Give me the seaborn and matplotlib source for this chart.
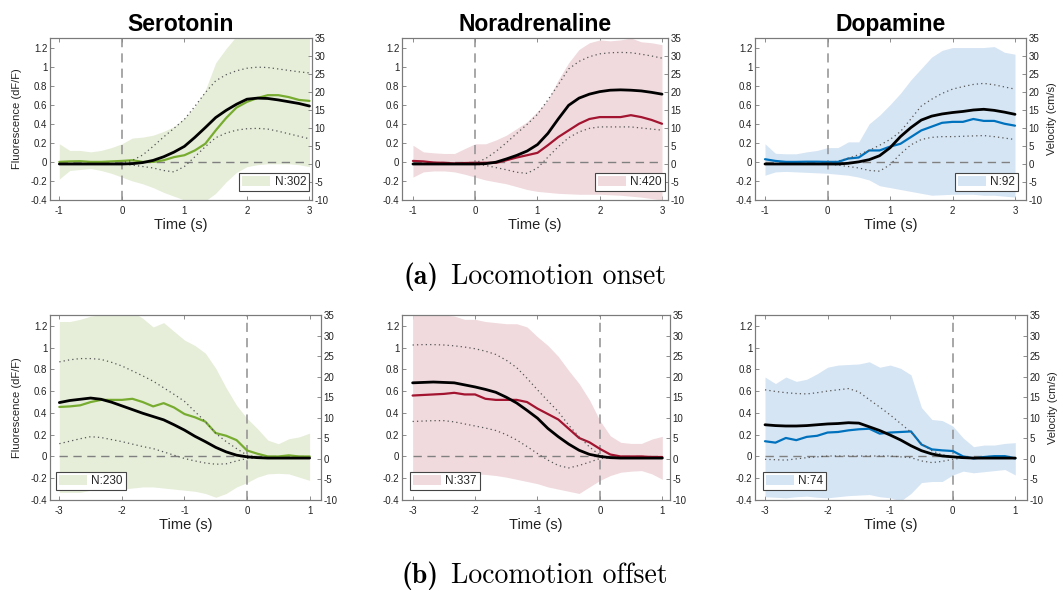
import matplotlib
matplotlib.use("Agg")
import matplotlib.pyplot as plt
import seaborn as sns
from matplotlib.patches import Patch
from matplotlib.ticker import FuncFormatter, FixedLocator

# ---------------- data ----------------
t_onset = [-1.0, -0.833, -0.667, -0.5, -0.333, -0.167, 0.0, 0.167, 0.333, 0.5, 0.667, 0.833,
           1.0, 1.167, 1.333, 1.5, 1.667, 1.833, 2.0, 2.167, 2.333, 2.5, 2.667, 2.833, 3.0]
t_offset = [-3.0, -2.833, -2.667, -2.5, -2.333, -2.167, -2.0, -1.833, -1.667, -1.5, -1.333, -1.167,
            -1.0, -0.833, -0.667, -0.5, -0.333, -0.167, 0.0, 0.167, 0.333, 0.5, 0.667, 0.833, 1.0]

# Serotonin onset
sero_on_fl = [0.0, 0.005, 0.007, 0.0, 0.0, 0.005, 0.01, 0.017, 0.0, 0.0, 0.017, 0.05, 0.07, 0.12,
              0.19, 0.33, 0.46, 0.57, 0.63, 0.67, 0.70, 0.70, 0.68, 0.65, 0.64]
sero_on_hi = [0.19, 0.12, 0.12, 0.105, 0.12, 0.15, 0.19, 0.25, 0.26, 0.28, 0.32, 0.37, 0.46, 0.58,
              0.75, 1.04, 1.19, 1.32, 1.40, 1.45, 1.45, 1.45, 1.42, 1.40, 1.38]
sero_on_lo = [-0.18, -0.09, -0.08, -0.07, -0.09, -0.12, -0.16, -0.20, -0.23, -0.27, -0.32, -0.36,
              -0.40, -0.42, -0.41, -0.33, -0.21, -0.11, -0.05, -0.03, -0.02, -0.02, -0.02, -0.03, -0.05]
sero_on_vel = [0, 0, 0, 0, 0, 0, 0, 0.1, 0.4, 1.0, 2.0, 3.3, 4.9, 7.4, 10.1, 12.9, 14.9, 16.6,
               18.0, 18.3, 18.2, 17.8, 17.3, 16.8, 16.1]
sero_on_vhi = [0, 0, 0, 0, 0, 0, 0.3, 1.0, 2.5, 4.9, 7.5, 9.9, 12.4, 16.0, 19.8, 23.1, 24.8, 25.9,
               26.6, 26.9, 26.8, 26.4, 26.0, 25.6, 25.3]
sero_on_vlo = [0, 0, 0, 0, 0, 0, 0, -0.3, -0.7, -1.1, -1.8, -2.2, -0.7, 2.0, 4.8, 7.3, 8.6, 9.4,
               9.8, 9.9, 9.7, 9.1, 8.4, 7.7, 7.0]

# Noradrenaline onset
nor_on_fl = [0.01, 0.005, -0.007, -0.01, -0.017, -0.012, -0.01, -0.01, -0.01, 0.017, 0.046, 0.07,
             0.095, 0.175, 0.26, 0.33, 0.40, 0.45, 0.47, 0.47, 0.47, 0.49, 0.47, 0.44, 0.40]
nor_on_hi = [0.175, 0.105, 0.095, 0.088, 0.088, 0.14, 0.19, 0.19, 0.23, 0.28, 0.35, 0.42, 0.53,
             0.65, 0.86, 1.04, 1.18, 1.25, 1.28, 1.27, 1.28, 1.30, 1.26, 1.25, 1.23]
nor_on_lo = [-0.16, -0.105, -0.095, -0.095, -0.105, -0.13, -0.16, -0.19, -0.21, -0.23, -0.26,
             -0.29, -0.31, -0.32, -0.33, -0.335, -0.34, -0.34, -0.34, -0.345, -0.35, -0.36, -0.37,
             -0.385, -0.40]
nor_on_vel = [0, 0, 0, 0, 0, 0, 0, 0.1, 0.5, 1.4, 2.4, 3.6, 5.4, 8.5, 12.5, 16.3, 18.3, 19.4,
              20.1, 20.5, 20.6, 20.5, 20.3, 19.9, 19.4]
nor_on_vhi = [0, 0, 0, 0, 0, 0, 0.3, 1.5, 3.5, 5.9, 8.5, 11.0, 13.8, 17.8, 22.0, 26.4, 28.5, 29.8,
              30.6, 30.9, 31.0, 30.9, 30.5, 30.0, 29.4]
nor_on_vlo = [0, 0, 0, 0, 0, 0, 0, -0.4, -1.0, -1.6, -2.3, -2.6, -1.1, 1.9, 4.8, 7.3, 8.9, 9.9,
              10.3, 10.3, 10.3, 10.3, 10.0, 9.7, 9.4]

# Dopamine onset
dop_on_fl = [0.028, 0.01, 0.0, 0.0, 0.002, 0.002, 0.0, 0.0, 0.035, 0.046, 0.12, 0.12, 0.16, 0.19,
             0.26, 0.33, 0.37, 0.41, 0.42, 0.42, 0.45, 0.43, 0.43, 0.40, 0.38]
dop_on_hi = [0.19, 0.09, 0.085, 0.085, 0.105, 0.12, 0.15, 0.15, 0.21, 0.21, 0.40, 0.49, 0.60, 0.72,
             0.86, 0.98, 1.10, 1.17, 1.20, 1.20, 1.20, 1.20, 1.21, 1.15, 1.13]
dop_on_lo = [-0.14, -0.105, -0.10, -0.105, -0.11, -0.115, -0.12, -0.13, -0.14, -0.16, -0.19, -0.25,
             -0.27, -0.29, -0.31, -0.33, -0.35, -0.345, -0.34, -0.34, -0.34, -0.35, -0.35, -0.36, -0.37]
dop_on_vel = [0, 0, 0, 0, 0, 0, 0, 0.0, 0.2, 0.6, 1.2, 2.3, 4.5, 7.6, 10.1, 12.2, 13.3, 13.9,
              14.3, 14.6, 15.0, 15.2, 14.9, 14.4, 13.8]
dop_on_vhi = [0, 0, 0, 0, 0, 0, 0.3, 0.8, 1.6, 2.6, 3.8, 5.2, 6.8, 9.0, 12.5, 16.1, 18.0, 19.6,
              20.8, 21.5, 22.1, 22.4, 22.0, 21.4, 20.8]
dop_on_vlo = [0, 0, 0, 0, 0, 0, 0, -0.3, -0.7, -1.1, -1.8, -2.0, -0.2, 2.8, 5.3, 6.8, 7.4, 7.6,
              7.6, 7.7, 7.8, 7.9, 7.6, 7.2, 6.8]

# Serotonin offset
sero_off_fl = [0.455, 0.46, 0.47, 0.50, 0.52, 0.52, 0.52, 0.53, 0.50, 0.46, 0.49, 0.45, 0.39, 0.36,
               0.32, 0.215, 0.19, 0.15, 0.055, 0.025, 0.0, 0.0, 0.01, 0.0, 0.0]
sero_off_hi = [1.24, 1.24, 1.26, 1.29, 1.30, 1.32, 1.33, 1.33, 1.27, 1.19, 1.23, 1.15, 1.07, 1.02,
               0.95, 0.81, 0.63, 0.47, 0.35, 0.255, 0.15, 0.117, 0.163, 0.18, 0.215]
sero_off_lo = [-0.33, -0.33, -0.33, -0.31, -0.305, -0.30, -0.30, -0.29, -0.28, -0.28, -0.29, -0.30,
               -0.31, -0.32, -0.34, -0.375, -0.34, -0.28, -0.24, -0.19, -0.16, -0.155, -0.16, -0.19,
               -0.22]
sero_off_vel = [13.7, 14.2, 14.5, 14.8, 14.5, 13.8, 12.9, 12.0, 11.1, 10.3, 9.5, 8.3, 7.0, 5.5, 4.2,
                2.8, 1.7, 0.9, 0.5, 0.3, 0.2, 0.2, 0.2, 0.2, 0.2]
sero_off_vhi = [23.6, 24.1, 24.4, 24.4, 24.2, 23.5, 22.6, 21.4, 20.2, 18.9, 17.3, 15.7, 14.0, 11.5,
                9.1, 6.2, 4.2, 2.5, 0.9, 0.4, 0.3, 0.2, 0.2, 0.2, 0.2]
sero_off_vlo = [3.7, 4.3, 4.9, 5.4, 5.2, 4.7, 4.2, 3.6, 3.0, 2.5, 1.7, 0.9, 0.1, -0.5, -1.0, -1.3,
                -1.2, -0.5, 0.1, 0.2, 0.2, 0.2, 0.2, 0.2, 0.2]

# Noradrenaline offset
nor_off_fl = [0.56, 0.565, 0.57, 0.575, 0.585, 0.57, 0.57, 0.53, 0.52, 0.52, 0.52, 0.50, 0.44, 0.39,
              0.34, 0.255, 0.17, 0.13, 0.07, 0.018, 0.0, 0.0, 0.0, -0.005, -0.005]
nor_off_hi = [1.32, 1.32, 1.32, 1.30, 1.29, 1.26, 1.26, 1.24, 1.23, 1.22, 1.22, 1.19, 1.10, 1.02,
              0.92, 0.79, 0.67, 0.52, 0.33, 0.19, 0.13, 0.12, 0.12, 0.16, 0.185]
nor_off_lo = [-0.175, -0.175, -0.175, -0.165, -0.16, -0.16, -0.16, -0.165, -0.175, -0.19, -0.21,
              -0.23, -0.25, -0.28, -0.30, -0.32, -0.34, -0.28, -0.22, -0.175, -0.145, -0.135, -0.13,
              -0.16, -0.21]
nor_off_vel = [18.5, 18.6, 18.7, 18.6, 18.5, 18.0, 17.5, 16.9, 16.2, 15.0, 13.6, 11.8, 9.9, 7.4,
               5.4, 3.6, 2.1, 1.1, 0.6, 0.3, 0.2, 0.2, 0.2, 0.2, 0.2]
nor_off_vhi = [27.7, 27.8, 27.8, 27.7, 27.5, 27.2, 26.8, 26.2, 25.4, 24.0, 22.2, 19.6, 16.8, 14.1,
               11.5, 8.2, 5.4, 2.9, 0.9, 0.3, 0.2, 0.2, 0.2, 0.2, 0.2]
nor_off_vlo = [9.1, 9.2, 9.3, 9.3, 9.0, 8.5, 8.0, 7.5, 6.9, 5.9, 4.6, 3.0, 1.3, -0.3, -1.6, -2.2,
               -1.6, -0.8, 0.1, 0.2, 0.2, 0.2, 0.2, 0.2, 0.2]

# Dopamine offset
dop_off_fl = [0.14, 0.127, 0.17, 0.15, 0.18, 0.19, 0.22, 0.225, 0.24, 0.25, 0.255, 0.21, 0.22, 0.225,
              0.23, 0.11, 0.065, 0.056, 0.05, 0.0, -0.018, -0.005, 0.003, 0.003, -0.018]
dop_off_hi = [0.73, 0.67, 0.73, 0.69, 0.71, 0.76, 0.82, 0.84, 0.845, 0.85, 0.87, 0.82, 0.84, 0.81,
              0.75, 0.45, 0.34, 0.33, 0.28, 0.17, 0.09, 0.105, 0.105, 0.12, 0.127]
dop_off_lo = [-0.37, -0.375, -0.38, -0.37, -0.365, -0.375, -0.38, -0.37, -0.36, -0.355, -0.35, -0.37,
              -0.38, -0.41, -0.34, -0.24, -0.23, -0.23, -0.17, -0.135, -0.15, -0.14, -0.13, -0.12,
              -0.17]
dop_off_vel = [8.3, 8.1, 8.0, 8.0, 8.1, 8.3, 8.5, 8.6, 8.8, 8.7, 7.8, 6.9, 5.8, 4.6, 3.2, 2.0, 1.2,
               0.7, 0.5, 0.3, 0.2, 0.2, 0.2, 0.2, 0.2]
dop_off_vhi = [16.8, 16.4, 16.1, 15.9, 15.8, 16.1, 16.5, 16.8, 17.1, 16.3, 14.4, 12.6, 10.7, 8.6,
               6.5, 3.7, 2.0, 1.0, 0.5, 0.3, 0.2, 0.2, 0.2, 0.2, 0.2]
dop_off_vlo = [-0.1, -0.2, -0.3, 0.0, 0.3, 0.5, 0.7, 0.7, 0.7, 0.7, 0.7, 0.7, 0.7, 0.5, 0.3, -0.5,
               -0.9, -0.6, -0.1, 0.2, 0.2, 0.2, 0.2, 0.2, 0.2]

titles = ["Serotonin", "Noradrenaline", "Dopamine"]
n_onset = ["N:302", "N:420", "N:92"]
n_offset = ["N:230", "N:337", "N:74"]
xticks_onset = [-1, 0, 1, 2, 3]
xticks_offset = [-3, -2, -1, 0, 1]
fl_ticks = [-0.4, -0.2, 0, 0.2, 0.4, 0.6, 0.8, 1.0, 1.2]
vel_ticks = [-10, -5, 0, 5, 10, 15, 20, 25, 30, 35]
caption_tags = ["(a)", "(b)"]
caption_texts = ["Locomotion onset", "Locomotion offset"]

line_colors = ["#77AC30", "#A2142F", "#0072BD"]
band_colors = ["#E6EED9", "#F0DADE", "#D6E5F4"]

# ---------------- style ----------------
sns.set_theme(style="white")
plt.rcParams["font.family"] = ["Liberation Sans", "DejaVu Sans"]
plt.rcParams["mathtext.fontset"] = "cm"
plt.rcParams["axes.unicode_minus"] = False

W, H = 1063, 591
fig = plt.figure(figsize=(W / 100, H / 100), dpi=100)
fig.patch.set_facecolor("white")

SPINE = "#7a7a7a"
TXT = "#222222"


def px_axes(left, top, right, bottom):
    return fig.add_axes([left / W, 1 - bottom / H, (right - left) / W, (bottom - top) / H])


fmt = FuncFormatter(lambda v, p: ("%g" % round(v, 2)))

panels = [
    (0, 0, t_onset, sero_on_fl, sero_on_hi, sero_on_lo, sero_on_vel, sero_on_vhi, sero_on_vlo,
     (50, 38, 312, 200), (-1.149, 3.04)),
    (0, 1, t_onset, nor_on_fl, nor_on_hi, nor_on_lo, nor_on_vel, nor_on_vhi, nor_on_vlo,
     (402, 38, 668, 200), (-1.176, 3.096)),
    (0, 2, t_onset, dop_on_fl, dop_on_hi, dop_on_lo, dop_on_vel, dop_on_vhi, dop_on_vlo,
     (755, 38, 1026, 200), (-1.16, 3.176)),
    (1, 0, t_offset, sero_off_fl, sero_off_hi, sero_off_lo, sero_off_vel, sero_off_vhi, sero_off_vlo,
     (50, 315, 321, 500), (-3.149, 1.182)),
    (1, 1, t_offset, nor_off_fl, nor_off_hi, nor_off_lo, nor_off_vel, nor_off_vhi, nor_off_vlo,
     (402, 315, 670, 500), (-3.17, 1.123)),
    (1, 2, t_offset, dop_off_fl, dop_off_hi, dop_off_lo, dop_off_vel, dop_off_vhi, dop_off_vlo,
     (755, 315, 1027, 500), (-3.16, 1.187)),
]

for (row, col, t, fl, hi, lo, vel, vhi, vlo, box, xlim) in panels:
    ax = px_axes(*box)
    ax.set_facecolor("white")
    ax.fill_between(t, lo, hi, color=band_colors[col], linewidth=0, zorder=1)
    ax.hlines(0, t[0], t[-1], colors="#808080", linestyles=(0, (6, 4)), linewidth=1.0, zorder=2)
    ax.axvline(0, color="#909090", linestyle=(0, (6, 4)), linewidth=1.1, zorder=2)
    sns.lineplot(x=t, y=fl, ax=ax, color=line_colors[col], linewidth=1.6, zorder=3)
    ax.set_xlim(*xlim)
    ax.set_ylim(-0.4, 1.3)
    ax.xaxis.set_major_locator(FixedLocator(xticks_onset if row == 0 else xticks_offset))
    ax.yaxis.set_major_locator(FixedLocator(fl_ticks))
    ax.xaxis.set_major_formatter(fmt)
    ax.yaxis.set_major_formatter(fmt)
    ax.tick_params(axis="both", direction="in", length=3, width=0.6, color=SPINE,
                   labelsize=7, labelcolor=TXT, top=True, right=False, bottom=True, left=True)
    ax.tick_params(axis="y", pad=2)
    ax.tick_params(axis="x", pad=4)
    ax.set_xlabel("Time (s)", fontsize=10.5, color=TXT, labelpad=2)
    if col == 0:
        ax.set_ylabel("Fluorescence (dF/F)", fontsize=8, color=TXT, labelpad=6)
    else:
        ax.set_ylabel("")
    if row == 0:
        ax.set_title(titles[col], fontsize=16.5, fontweight="bold", color="black", pad=5)

    ax2 = ax.twinx()
    sns.lineplot(x=t, y=vhi, ax=ax2, color="#555555", linewidth=0.9, linestyle=(0, (1, 2.5)))
    sns.lineplot(x=t, y=vlo, ax=ax2, color="#555555", linewidth=0.9, linestyle=(0, (1, 2.5)))
    sns.lineplot(x=t, y=vel, ax=ax2, color="black", linewidth=2.0)
    ax2.set_ylim(-10, 35)
    ax2.yaxis.set_major_locator(FixedLocator(vel_ticks))
    ax2.yaxis.set_major_formatter(fmt)
    ax2.tick_params(axis="y", direction="in", length=3, width=0.6, color=SPINE,
                    labelsize=7, labelcolor=TXT, pad=2)
    if col == 2:
        ax2.set_ylabel("Velocity (cm/s)", fontsize=8, color=TXT, labelpad=3)
    else:
        ax2.set_ylabel("")
    ax2.set_xlabel("")
    for a in (ax, ax2):
        for s in a.spines.values():
            s.set_visible(True)
            s.set_color(SPINE)
            s.set_linewidth(0.8)

    label = (n_onset if row == 0 else n_offset)[col]
    handle = Patch(facecolor=band_colors[col], edgecolor="none")
    axw = box[2] - box[0]
    axh = box[3] - box[1]
    if row == 0:
        gap_r = 3 if col < 2 else 8
        anchor = (1 - gap_r / axw, 9 / axh)
        loc = "lower right"
    else:
        gap_l = 6 if col == 0 else 8
        anchor = (gap_l / axw, 10 / axh)
        loc = "lower left"
    leg = ax2.legend([handle], [label], loc=loc, bbox_to_anchor=anchor, borderaxespad=0,
                     fontsize=8.5, handlelength=2.4, handleheight=0.9, handletextpad=0.35,
                     borderpad=0.25, fancybox=False, framealpha=1, edgecolor="#444444")
    leg.get_frame().set_linewidth(0.8)

# captions (Computer Modern, bold tag + roman text)
for tag, txt, base_y in zip(caption_tags, caption_texts, [284, 583]):
    fig.text(438 / W, 1 - base_y / H, tag, ha="right", va="baseline", fontsize=20,
             family="cmb10", color="black")
    fig.text(451 / W, 1 - base_y / H, txt, ha="left", va="baseline", fontsize=20,
             family="cmr10", color="black")

fig.savefig("out.png", dpi=100, facecolor="white")
